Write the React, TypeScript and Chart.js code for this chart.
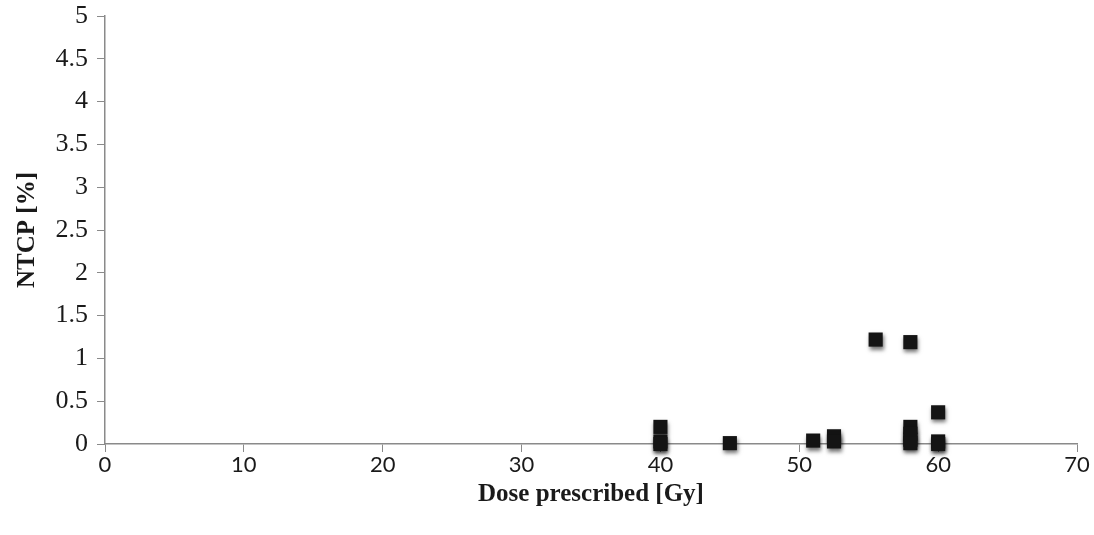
import React, { useEffect, useRef } from "react";
import { Chart, registerables } from "chart.js";

Chart.register(...registerables);

// Prescribed dose [Gy] and NTCP [%] per plan
const doseGy = [40, 40, 40, 45, 51, 52.5, 52.5, 55.5, 58, 58, 58, 58, 58, 60, 60, 60];
const ntcpPct = [0.2, 0.03, 0.0, 0.01, 0.04, 0.09, 0.03, 1.22, 1.19, 0.2, 0.12, 0.05, 0.01, 0.37, 0.03, 0.0];

const xTitle = "Dose prescribed [Gy]";
const yTitle = "NTCP [%]";

const xMin = 0;
const xMax = 70;
const xStep = 10;
const yMin = 0;
const yMax = 5;
const yStep = 0.5;

// soft drop shadow under the square markers
const markerShadow = {
  id: "markerShadow",
  beforeDatasetsDraw(chart: any) {
    const ctx = chart.ctx;
    ctx.save();
    ctx.shadowColor = "rgba(0,0,0,0.55)";
    ctx.shadowBlur = 4;
    ctx.shadowOffsetX = 1;
    ctx.shadowOffsetY = 3;
  },
  afterDatasetsDraw(chart: any) {
    chart.ctx.restore();
  },
};

export default function App() {
  const ref = useRef<HTMLCanvasElement | null>(null);

  useEffect(() => {
    if (!ref.current) return;
    const points = doseGy.map((x, i) => ({ x, y: ntcpPct[i] }));
    const axisColor = "#8a8a8a";
    const serif = "'Liberation Serif', 'DejaVu Serif', serif";
    const chart = new Chart(ref.current, {
      type: "scatter",
      data: {
        datasets: [
          {
            label: "NTCP",
            data: points,
            clip: false,
            pointStyle: "rect",
            pointRadius: 10,
            pointHoverRadius: 10,
            backgroundColor: "#141414",
            borderColor: "#141414",
            borderWidth: 0,
          },
        ],
      },
      options: {
        animation: false,
        responsive: false,
        maintainAspectRatio: false,
        layout: { padding: { left: 0, right: 17, top: 16, bottom: 0 } },
        plugins: {
          legend: { display: false },
          tooltip: { enabled: false },
        },
        scales: {
          x: {
            type: "linear",
            min: xMin,
            max: xMax,
            ticks: {
              stepSize: xStep,
              color: "#1a1a1a",
              padding: 0,
              callback: (v: any) => String(v),
              font: { family: "Lato, 'Open Sans', sans-serif", size: 22 },
            },
            grid: {
              display: true,
              drawOnChartArea: false,
              drawTicks: true,
              tickLength: 8,
              color: axisColor,
            },
            border: { display: true, color: axisColor, width: 1.5 },
            title: {
              display: true,
              text: xTitle,
              color: "#1a1a1a",
              padding: { top: 0, bottom: 25 },
              font: { family: serif, size: 25, weight: "bold" },
            },
            afterFit(axis: any) {
              axis.height = 91;
              axis.paddingLeft = 0;
              axis.paddingRight = 0;
            },
          },
          y: {
            type: "linear",
            min: yMin,
            max: yMax,
            ticks: {
              stepSize: yStep,
              color: "#1a1a1a",
              padding: 9,
              callback: (v: any) => String(v),
              font: { family: serif, size: 26 },
            },
            grid: {
              display: true,
              drawOnChartArea: false,
              drawTicks: true,
              tickLength: 8,
              color: axisColor,
            },
            border: { display: true, color: axisColor, width: 1.5 },
            title: {
              display: true,
              text: yTitle,
              color: "#1a1a1a",
              padding: { top: 13, bottom: 0 },
              font: { family: serif, size: 25, weight: "bold" },
            },
            afterFit(axis: any) {
              axis.width = 105;
              axis.paddingTop = 0;
              axis.paddingBottom = 0;
            },
          },
        },
      },
      plugins: [markerShadow],
    });
    return () => chart.destroy();
  }, []);

  return (
    <div style={{ position: "absolute", left: 0, top: 0, width: 1094, height: 535, background: "#fff" }}>
      <canvas ref={ref} width={1094} height={535} style={{ display: "block" }} />
    </div>
  );
}
